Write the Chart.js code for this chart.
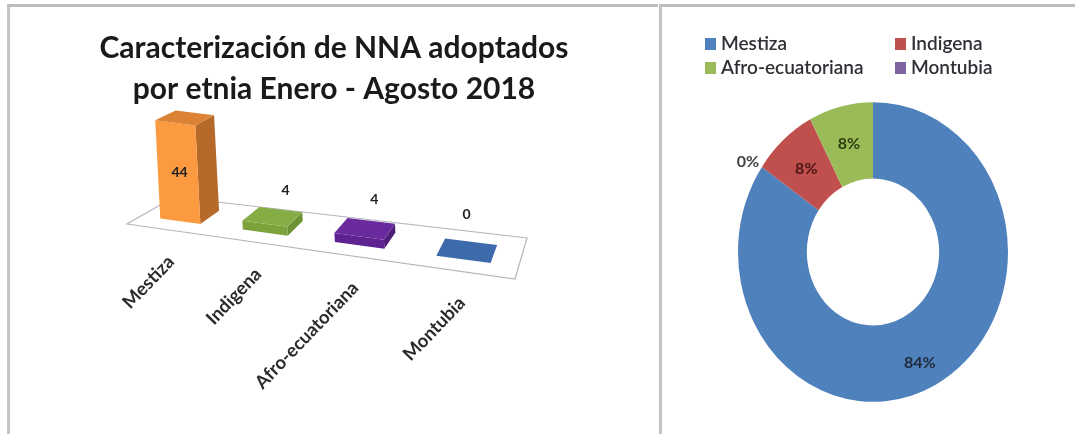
<!DOCTYPE html>
<html>
<head>
<meta charset="utf-8">
<script src="https://cdn.jsdelivr.net/npm/chart.js@4"></script>
<style>
    html, body { margin: 0; padding: 0; background: #fff; overflow: hidden; }
    .panel { position: absolute; top: 4px; height: 430px; box-sizing: border-box; border-top: 3px solid #bdbdbd; border-left: 3px solid #c4c4c4; }
    #panelBars { left: 7px; width: 651px; }
    #panelRing { left: 659px; width: 416px; }
    canvas { display: block; filter: blur(0.5px); }
</style>
</head>
<body>
<div class="panel" id="panelBars"><canvas id="barsChart" width="648" height="427"></canvas></div>
<div class="panel" id="panelRing"><canvas id="ringChart" width="413" height="427"></canvas></div>
<script>
const categories = ['Mestiza', 'Indigena', 'Afro-ecuatoriana', 'Montubia'];
const counts = [44, 4, 4, 0];
const percentLabels = ['84%', '8%', '8%', '0%'];
const barTitle = ['Caracterización de NNA adoptados', 'por etnia Enero - Agosto 2018'];

const barFaces = [
    { front: '#FB9A40', side: '#B5692B', top: '#DB8235' },
    { front: '#7DA23C', side: '#6E9134', top: '#86AD45' },
    { front: '#5E2391', side: '#4E1C79', top: '#6A2A9E' },
    { front: '#3A67A6', side: '#335C95', top: '#3C6AAB' }
];
const ringColors = ['#4F81BD', '#C0504D', '#9BBB59', '#8064A2'];

// floor quad inside the canvas, u runs over the plot area from 0 to 1
const floorLeft = 117, floorWidth = 388;
function floorPoint(area, u, depth, lift) {
    const w = floorWidth;
    const warped = u - 0.2 * u * (1 - u); // bars get wider towards the right
    const fx = floorLeft + w * warped, fy = area.bottom + 0.1418 * w * warped;
    const bx = floorLeft + 47 + (w - 35) * warped, by = area.bottom - 27 + (w * 0.1418 - 14) * warped;
    // lean the tall faces a little, like the perspective in the picture
    return [fx + (bx - fx) * depth - lift * 0.05, fy + (by - fy) * depth - lift * (1 - 0.06 * depth)];
}

function poly(ctx, pts, fill, stroke) {
    ctx.beginPath();
    pts.forEach((p, i) => i ? ctx.lineTo(p[0], p[1]) : ctx.moveTo(p[0], p[1]));
    ctx.closePath();
    if (fill) { ctx.fillStyle = fill; ctx.fill(); }
    if (stroke) { ctx.strokeStyle = stroke; ctx.stroke(); }
}

const prismPlugin = {
    id: 'prism',
    beforeDatasetsDraw(chart) {
        const { ctx, chartArea: a } = chart;
        const w = a.right - a.left;
        ctx.save();
        ctx.lineWidth = 1.2;
        poly(ctx, [floorPoint(a, 0, 0, 0), floorPoint(a, 1, 0, 0), floorPoint(a, 1, 1, 0), floorPoint(a, 0, 1, 0)], '#fff', '#b4b6bd');

        const bars = chart.getDatasetMeta(0).data;
        const nudges = [[2, 0], [14, -27], [10, -30], [0, -37]];
        bars.forEach((bar, i) => {
            const u0 = (bar.x - bar.width / 2 - a.left) / w, u1 = (bar.x + bar.width / 2 - a.left) / w;
            const h = bar.base - bar.y;
            const p = (u, d, lift) => floorPoint(a, u, d, lift);
            const c = barFaces[i];
            if (h > 0) {
                poly(ctx, [p(u1, .3, 0), p(u1, .75, 0), p(u1, .75, h), p(u1, .3, h)], c.side);
                poly(ctx, [p(u0, .3, 0), p(u1, .3, 0), p(u1, .3, h), p(u0, .3, h)], c.front);
            }
            poly(ctx, [p(u0, .3, h), p(u1, .3, h), p(u1, .75, h), p(u0, .75, h)], c.top);

            const uMid = (bar.x - a.left) / w;
            const at = i === 0 ? p(uMid, .3, h / 2) : p(uMid, .5, h);
            ctx.fillStyle = '#1d1d1d';
            ctx.font = 'bold 14px Lato';
            ctx.textAlign = 'center';
            ctx.textBaseline = 'middle';
            ctx.fillText(String(counts[i]), at[0] + nudges[i][0], at[1] + nudges[i][1]);

            // slanted category labels
            const foot = p(uMid, 0, 0);
            ctx.save();
            ctx.translate(foot[0] + 4, foot[1] + 29);
            ctx.rotate(-Math.PI / 4 - 0.02);
            ctx.textAlign = 'right';
            ctx.font = 'bold 18.5px Lato';
            ctx.fillStyle = '#2b2b2b';
            ctx.fillText(categories[i], 0, 0);
            ctx.restore();
        });
        ctx.restore();
    }
};

new Chart(document.getElementById('barsChart'), {
    type: 'bar',
    data: {
        labels: categories,
        datasets: [{ data: counts, backgroundColor: 'transparent', barPercentage: 0.5, categoryPercentage: 1 }]
    },
    options: {
        responsive: false,
        animation: false,
        layout: { padding: { top: 0, bottom: 210 } },
        scales: {
            x: { display: false },
            y: { display: false, min: 0, max: 44 }
        },
        plugins: {
            legend: { display: false },
            tooltip: { enabled: false },
            title: {
                display: true,
                text: barTitle,
                color: '#1a1a1a',
                font: { family: 'Lato', size: 30, weight: 'bold', lineHeight: 1.365 },
                padding: { top: 21, bottom: 14 }
            }
        }
    },
    plugins: [prismPlugin]
});

// the ring in the picture is taller than wide, stretch it around its centre
const ringStretch = 1.11;
const ringPlugin = {
    id: 'ringStretch',
    beforeDatasetDraw(chart) {
        const arc = chart.getDatasetMeta(0).data[0];
        const { ctx } = chart;
        ctx.save();
        ctx.translate(arc.x, arc.y);
        ctx.scale(1, ringStretch);
        ctx.translate(-arc.x, -arc.y);
    },
    afterDatasetDraw(chart) {
        chart.ctx.restore();
    },
    afterDraw(chart) {
        const { ctx } = chart;
        const arcs = chart.getDatasetMeta(0).data;
        const offsets = [[0, 12], [0, 0], [0, 0], [-125, 21]];
        ctx.save();
        ctx.textAlign = 'center';
        ctx.textBaseline = 'middle';
        ctx.font = 'bold 16px Lato';
        arcs.forEach((arc, i) => {
            const mid = (arc.startAngle + arc.endAngle) / 2;
            const r = (arc.innerRadius + arc.outerRadius) / 2;
            const x = arc.x + Math.cos(mid) * r;
            const y = arc.y + Math.sin(mid) * r * ringStretch;
            ctx.fillStyle = i === 3 ? '#404040' : ['#1d2a3a', '#4a1513', '#2c4010'][i];
            ctx.fillText(percentLabels[i], x + offsets[i][0], y + offsets[i][1]);
        });

        // two column legend, chart.js cannot line up the columns by itself
        ctx.font = '600 19px Lato';
        ctx.textAlign = 'left';
        const cols = [43, 233], rows = [37, 61];
        categories.forEach((name, i) => {
            const x = cols[i % 2], y = rows[Math.floor(i / 2)];
            ctx.fillStyle = ringColors[i];
            ctx.fillRect(x, y - 6, 11, 12);
            ctx.fillStyle = '#2f3136';
            ctx.fillText(name, x + 16, y);
        });
        ctx.restore();
    }
};

new Chart(document.getElementById('ringChart'), {
    type: 'doughnut',
    data: {
        labels: categories,
        datasets: [{ data: counts, backgroundColor: ringColors, borderWidth: 0 }]
    },
    options: {
        responsive: false,
        animation: false,
        cutout: '49%',
        layout: { padding: { left: 76, right: 67, top: 110, bottom: 47 } },
        plugins: {
            legend: { display: false },
            tooltip: { enabled: false }
        }
    },
    plugins: [ringPlugin]
});
</script>
</body>
</html>
